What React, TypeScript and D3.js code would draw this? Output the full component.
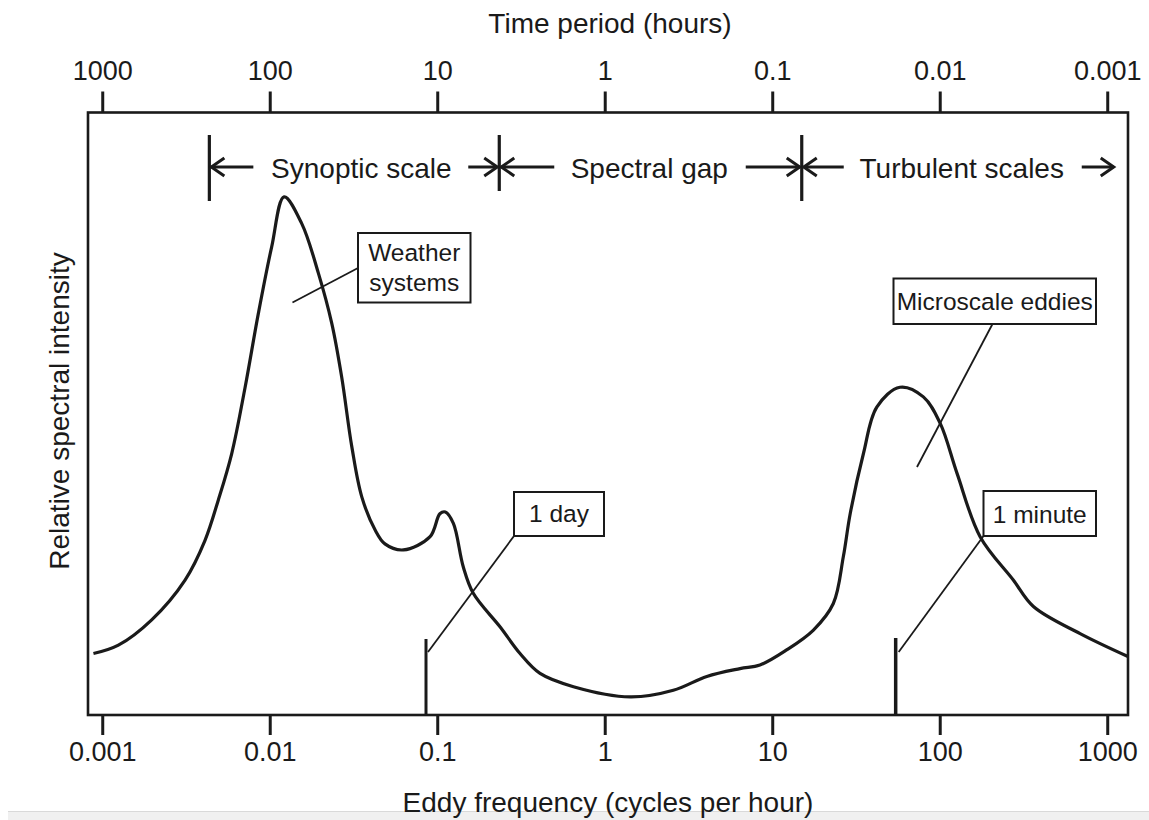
import React from "react";
import * as d3 from "d3";

// Spectrum of eddy kinetic energy vs. frequency (cycles per hour)
const frequency = [
  0.00088, 0.00124, 0.00196, 0.0031, 0.00408, 0.0049, 0.00589, 0.00708, 0.0085, 0.0102,
  0.0121, 0.0154, 0.0194, 0.0233, 0.0267, 0.0307, 0.0352, 0.0423, 0.0484, 0.0624,
  0.09, 0.103, 0.111, 0.124, 0.142, 0.163, 0.236, 0.31, 0.408, 0.646,
  1.41, 2.55, 4.04, 6.38, 8.39, 12.1, 17.5, 23.0, 26.4, 29.0,
  34.8, 41.8, 57.5, 79.3, 100, 126, 173, 273, 360, 684, 1320,
];
const intensity = [
  10.2, 11.6, 15.8, 22.4, 29.0, 35.7, 43.4, 54.4, 66.7, 77.7,
  86.0, 81.6, 73.3, 65.0, 56.1, 44.5, 36.2, 30.7, 28.4, 27.4,
  29.6, 33.4, 33.7, 31.8, 24.6, 20.2, 14.6, 10.2, 6.9, 4.7,
  3.0, 4.1, 6.4, 7.7, 8.3, 10.8, 14.1, 18.5, 26.3, 33.4,
  43.4, 51.1, 54.4, 52.8, 48.4, 40.1, 29.6, 22.4, 18.0, 13.5, 9.7,
];

const freqTicks = [0.001, 0.01, 0.1, 1, 10, 100, 1000];
const freqTickLabels = ["0.001", "0.01", "0.1", "1", "10", "100", "1000"];
const periodTicks = [1000, 100, 10, 1, 0.1, 0.01, 0.001];
const periodTickLabels = ["1000", "100", "10", "1", "0.1", "0.01", "0.001"];

// Scale-range boundaries (cycles per hour)
const rangeBounds = [0.00433, 0.233, 14.9];
const rangeLabels = ["Synoptic scale", "Spectral gap", "Turbulent scales"];

// Reference markers (cycles per hour)
const dayMarker = 0.0851;
const minuteMarker = 54.2;

const W = 1149;
const H = 820;
const left = 88;
const right = 1128;
const top = 112.5;
const bottom = 715;
const FONT = "'Liberation Sans', Arial, Helvetica, sans-serif";
const INK = "#1a1a1a";

const fMin = Math.pow(10, -3.088);
const fMax = Math.pow(10, 3.121);

const x = d3.scaleLog().domain([fMin, fMax]).range([left, right]);
const xPeriod = d3.scaleLog().domain([1 / fMin, 1 / fMax]).range([left, right]);
const y = d3.scaleLinear().domain([0, 100]).range([bottom, top]);

const line = d3
  .line<number>()
  .x((_, i) => x(frequency[i]))
  .y((v) => y(v))
  .curve(d3.curveCatmullRom.alpha(0.5));

function ArrowHead({ tx, ty, dir }: { tx: number; ty: number; dir: number }) {
  const d = `M${tx + dir * -13},${ty - 9} L${tx},${ty} L${tx + dir * -13},${ty + 9}`;
  return <path d={d} fill="none" stroke={INK} strokeWidth={3} strokeLinejoin="miter" />;
}

function Arrow({ x1, x2, yy, dir }: { x1: number; x2: number; yy: number; dir: number }) {
  // dir = 1 → head at x2 pointing right, dir = -1 → head at x1 pointing left
  const tip = dir === 1 ? x2 : x1;
  return (
    <g>
      <line x1={x1} x2={x2} y1={yy} y2={yy} stroke={INK} strokeWidth={3} />
      <ArrowHead tx={tip} ty={yy} dir={dir} />
    </g>
  );
}

function Callout({
  bx, by, bw, bh, lines, lineGap, firstBase, lx, ly, ax, ay,
}: {
  bx: number; by: number; bw: number; bh: number; lines: string[]; lineGap: number;
  firstBase: number; lx: number; ly: number; ax: number; ay: number;
}) {
  return (
    <g>
      <line x1={lx} y1={ly} x2={ax} y2={ay} stroke={INK} strokeWidth={1.8} />
      <rect x={bx} y={by} width={bw} height={bh} fill="#fff" stroke={INK} strokeWidth={2} />
      {lines.map((t, i) => (
        <text
          key={t}
          x={bx + bw / 2}
          y={firstBase + i * lineGap}
          textAnchor="middle"
          fontSize={24.5}
          fontFamily={FONT}
          fill={INK}
        >
          {t}
        </text>
      ))}
    </g>
  );
}

export default function App() {
  const b = rangeBounds.map((f) => x(f));
  const arrowY = 167;
  const labelBase = 178;

  return (
    <svg
      width={W}
      height={H}
      viewBox={`0 0 ${W} ${H}`}
      style={{ position: "absolute", left: 0, top: 0, background: "#fff" }}
    >
      <rect x={0} y={0} width={W} height={H} fill="#fff" />
      <rect x={8} y={811} width={W - 8} height={9} fill="#f0f0f0" />
      <line x1={8} x2={W} y1={811.5} y2={811.5} stroke="#d9d9d9" strokeWidth={1} />

      {/* top axis: time period */}
      <text x={(left + right) / 2 + 2} y={33} textAnchor="middle" fontSize={28} fontFamily={FONT} fill={INK}>
        Time period (hours)
      </text>
      {periodTicks.map((p, i) => (
        <g key={"pt" + i}>
          <line x1={xPeriod(p)} x2={xPeriod(p)} y1={top} y2={top - 21} stroke={INK} strokeWidth={3} />
          <text x={xPeriod(p)} y={80} textAnchor="middle" fontSize={27} fontFamily={FONT} fill={INK}>
            {periodTickLabels[i]}
          </text>
        </g>
      ))}

      {/* bottom axis: frequency */}
      {freqTicks.map((f, i) => (
        <g key={"ft" + i}>
          <line x1={x(f)} x2={x(f)} y1={bottom} y2={bottom + 20} stroke={INK} strokeWidth={3} />
          <text x={x(f)} y={761} textAnchor="middle" fontSize={27} fontFamily={FONT} fill={INK}>
            {freqTickLabels[i]}
          </text>
        </g>
      ))}
      <text x={608} y={812} textAnchor="middle" fontSize={28} fontFamily={FONT} fill={INK}>
        Eddy frequency (cycles per hour)
      </text>

      {/* y axis title */}
      <text
        transform="translate(69,411) rotate(-90)"
        textAnchor="middle"
        fontSize={28}
        fontFamily={FONT}
        fill={INK}
      >
        Relative spectral intensity
      </text>

      {/* scale-range brackets */}
      <line x1={b[0]} x2={b[0]} y1={135} y2={201} stroke={INK} strokeWidth={3.2} />
      <line x1={b[1]} x2={b[1]} y1={135} y2={191} stroke={INK} strokeWidth={3.2} />
      <line x1={b[2]} x2={b[2]} y1={135} y2={201} stroke={INK} strokeWidth={3.2} />

      <Arrow x1={b[0] + 2} x2={b[0] + 44} yy={arrowY} dir={-1} />
      <text x={b[0] + 152} y={labelBase} textAnchor="middle" fontSize={28} fontFamily={FONT} fill={INK}>
        {rangeLabels[0]}
      </text>
      <Arrow x1={b[1] - 31} x2={b[1] - 2} yy={arrowY} dir={1} />

      <Arrow x1={b[1] + 2} x2={b[1] + 55} yy={arrowY} dir={-1} />
      <text x={b[1] + 150} y={labelBase} textAnchor="middle" fontSize={28} fontFamily={FONT} fill={INK}>
        {rangeLabels[1]}
      </text>
      <Arrow x1={b[2] - 56} x2={b[2] - 2} yy={arrowY} dir={1} />

      <Arrow x1={b[2] + 2} x2={b[2] + 42} yy={arrowY} dir={-1} />
      <text x={b[2] + 160} y={labelBase} textAnchor="middle" fontSize={28} fontFamily={FONT} fill={INK}>
        {rangeLabels[2]}
      </text>
      <Arrow x1={b[2] + 280} x2={b[2] + 312} yy={arrowY} dir={1} />

      {/* spectrum */}
      <path d={line(intensity) || ""} fill="none" stroke={INK} strokeWidth={3.2} strokeLinejoin="round" />

      {/* reference markers */}
      <line x1={x(dayMarker)} x2={x(dayMarker)} y1={639} y2={bottom} stroke={INK} strokeWidth={3} />
      <line x1={x(minuteMarker)} x2={x(minuteMarker)} y1={638} y2={bottom} stroke={INK} strokeWidth={3.5} />

      {/* callouts */}
      <Callout
        bx={358} by={233} bw={112.5} bh={69.5}
        lines={["Weather", "systems"]} lineGap={30} firstBase={261}
        lx={292.5} ly={302.5} ax={358} ay={268}
      />
      <Callout
        bx={514} by={492} bw={90} bh={44}
        lines={["1 day"]} lineGap={0} firstBase={522}
        lx={x(dayMarker) + 2} ly={652} ax={514} ay={536}
      />
      <Callout
        bx={893.5} by={278.5} bw={202.5} bh={45.5}
        lines={["Microscale eddies"]} lineGap={0} firstBase={310}
        lx={917} ly={467} ax={992.5} ay={324}
      />
      <Callout
        bx={983.5} by={491} bw={112.5} bh={45}
        lines={["1 minute"]} lineGap={0} firstBase={523}
        lx={x(minuteMarker) + 3} ly={652} ax={983.5} ay={536}
      />

      {/* frame */}
      <rect x={left} y={top} width={right - left} height={bottom - top} fill="none" stroke={INK} strokeWidth={2.6} />
    </svg>
  );
}
